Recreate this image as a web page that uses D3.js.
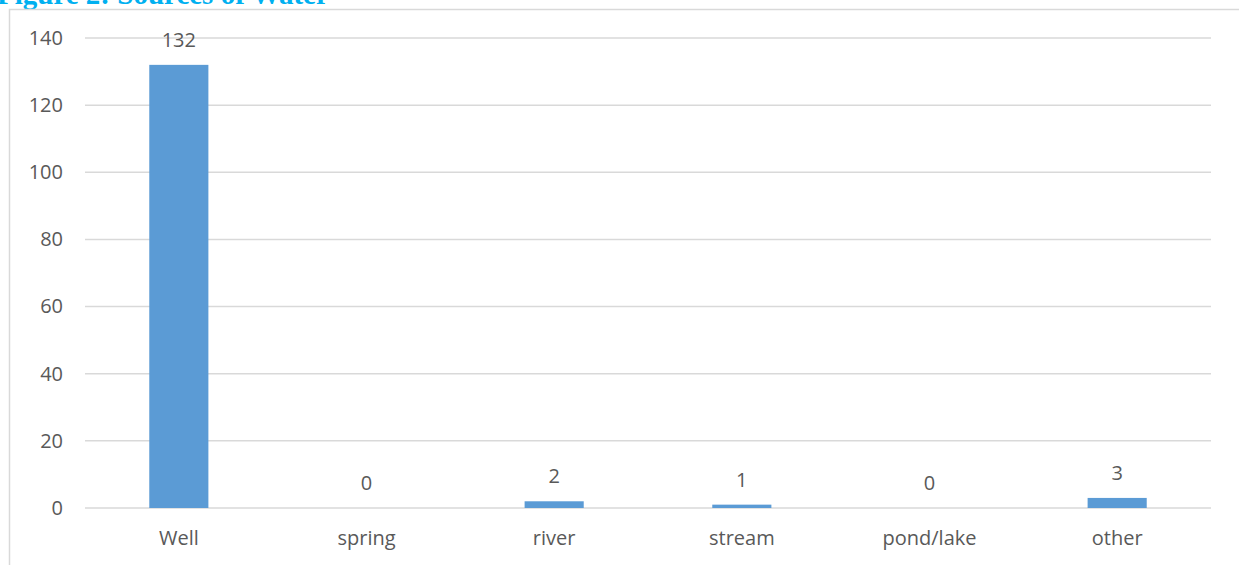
<!DOCTYPE html>
<html>
<head>
<meta charset="utf-8">
<script src="https://cdn.jsdelivr.net/npm/d3@7"></script>
<style>
  body { margin: 0; background: #fff; }
  text { font-family: "Open Sans", sans-serif; fill: #595959; }
</style>
</head>
<body>
<svg id="chart" width="1239" height="565"></svg>
<script>
'use strict'

// data
var categories = ['Well', 'spring', 'river', 'stream', 'pond/lake', 'other']
var counts = [132, 0, 2, 1, 0, 3]
var yTicks = [0, 20, 40, 60, 80, 100, 120, 140]

var data = categories.map((c, i) => ({ cat: c, value: counts[i] }))

var svg = d3.select('#chart'),
    margin = { top: 38, right: 28, bottom: 57, left: 85 },
    width = svg.attr('width') - margin.left - margin.right,
    height = svg.attr('height') - margin.top - margin.bottom

// title, clipped at the top like in the document
svg.append('text')
  .attr('x', -3)
  .attr('y', 4)
  .style('font-family', '"Liberation Serif", serif')
  .style('font-weight', 'bold')
  .style('font-size', '29px')
  .style('fill', '#00B0F0')
  .text('Figure 2: Sources of Water')

// chart frame (top + left only)
svg.append('path')
  .attr('d', 'M9.5,565 V9.5 H1239')
  .attr('fill', 'none')
  .attr('stroke', '#D9D9D9')
  .attr('stroke-width', 1.5)

var g = svg.append('g')
  .attr('transform', 'translate(' + margin.left + ',' + margin.top + ')')

var x = d3.scaleBand()
  .domain(categories)
  .range([0, width])
  .padding(0)

var y = d3.scaleLinear()
  .domain([0, 140])
  .range([height, 0])

// gridlines
g.append('g')
  .selectAll('line')
  .data(yTicks)
  .enter()
    .append('line')
    .attr('x1', 0)
    .attr('x2', width)
    .attr('y1', d => y(d))
    .attr('y2', d => y(d))
    .attr('stroke', '#D9D9D9')
    .attr('stroke-width', 1.5)

// y axis labels
var yAxis = g.append('g')
  .attr('transform', 'translate(-22,0)')
  .call(d3.axisLeft(y).tickValues(yTicks).tickSize(0).tickPadding(0))
yAxis.select('.domain').remove()
yAxis.selectAll('text')
  .style('font-size', '20px')
  .style('fill', '#595959')
  .style('font-family', '"Open Sans", sans-serif')

// x axis labels
var xAxis = g.append('g')
  .attr('transform', 'translate(0,' + height + ')')
  .call(d3.axisBottom(x).tickSize(0).tickPadding(23))
xAxis.select('.domain').remove()
xAxis.selectAll('text')
  .style('font-size', '20px')
  .style('fill', '#595959')
  .style('font-family', '"Open Sans", sans-serif')

var barW = x.bandwidth() * 0.315

g.selectAll('rect.bar')
  .data(data)
  .enter()
    .append('rect')
    .attr('class', 'bar')
    .attr('x', d => x(d.cat) + (x.bandwidth() - barW) / 2)
    .attr('y', d => y(d.value))
    .attr('width', barW)
    .attr('height', d => height - y(d.value))
    .attr('fill', '#5B9BD5')

g.selectAll('text.val')
  .data(data)
  .enter()
    .append('text')
    .attr('class', 'val')
    .attr('x', d => x(d.cat) + x.bandwidth() / 2)
    .attr('y', d => y(d.value) - 18)
    .attr('text-anchor', 'middle')
    .style('font-size', '20px')
    .text(d => d.value)
</script>
</body>
</html>
